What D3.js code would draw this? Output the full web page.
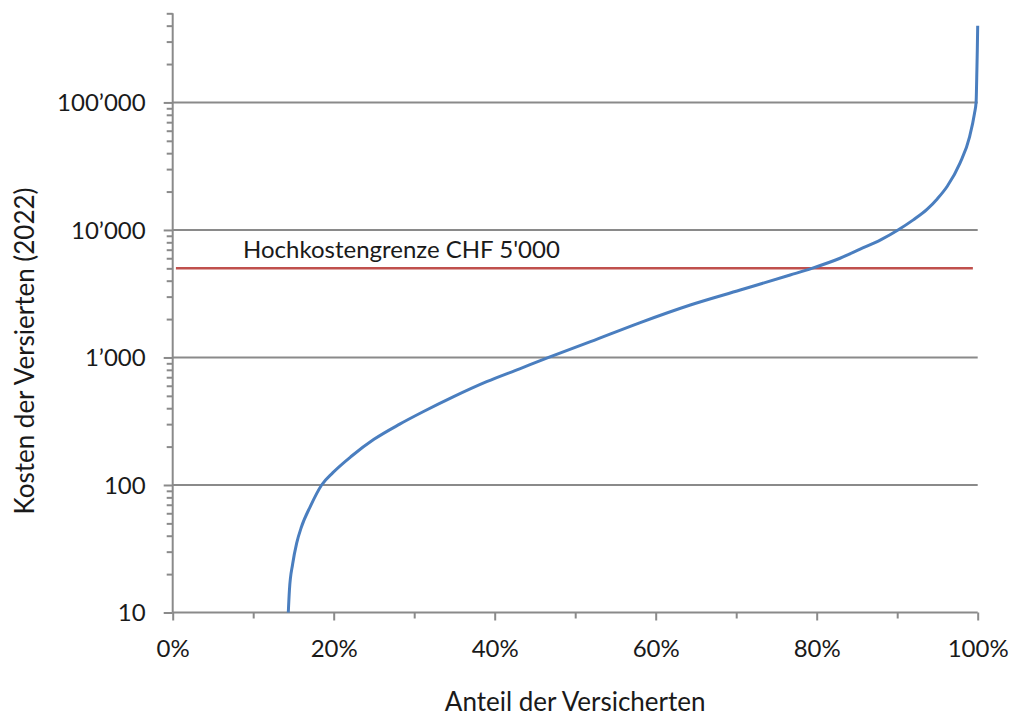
<!DOCTYPE html>
<html>
<head>
<meta charset="utf-8">
<script src="https://cdn.jsdelivr.net/npm/d3@7"></script>
<style>
  html, body { margin: 0; padding: 0; background: #ffffff; }
  svg { display: block; }
  text { font-family: Lato, "Open Sans", sans-serif; fill: #1a1a1a; }
</style>
</head>
<body>
<svg id="chart" width="1014" height="717"></svg>
<script>
// Share of insured persons (%) and their annual costs (CHF, 2022), sorted ascending
const sharePct = [14.36, 14.5, 14.9, 15.4, 16.0, 17.1, 18.5, 19.9, 22.2, 25.0, 28.2, 31.1, 34.9, 39.0, 43.1, 46.7, 51.9, 58.0, 64.3, 70.5, 76.7, 79.4, 82.9, 85.4, 88.0, 90.1, 92.0, 93.7, 95.0, 96.2, 97.8, 99.0, 99.6, 99.8, 99.9, 99.95, 100];
const costs    = [10, 15, 24, 35, 47, 68, 100, 125, 168, 228, 300, 375, 493, 646, 815, 1000, 1330, 1870, 2580, 3380, 4430, 5000, 6000, 7060, 8400, 10000, 12000, 14500, 17600, 21900, 33400, 54000, 82000, 100000, 180000, 258000, 400000];

// Axis ticks
const yTickValues = [10, 100, 1000, 10000, 100000];
const yTickLabels = ["10", "100", "1’000", "10’000", "100’000"];
const xTickValues = [0, 20, 40, 60, 80, 100];
const xTickLabels = ["0%", "20%", "40%", "60%", "80%", "100%"];
const xMinorValues = [10, 30, 50, 70, 90];

// High-cost threshold
const thresholdValue = 5000;
const thresholdLabel = "Hochkostengrenze CHF 5'000";

const xTitle = "Anteil der Versicherten";
const yTitle = "Kosten der Versierten (2022)";

const svg = d3.select("#chart");
const plotLeft = 172.7, plotRight = 977.7, plotTop = 13.3, plotBottom = 612.5;
const labelSize = 24, titleSize = 26;

const x = d3.scaleLinear().domain([0, 100]).range([plotLeft, plotRight]);
const y = d3.scaleLog().domain([10, 500000]).range([plotBottom, plotTop]);

const gridColor = "#8a8a8a";

// Horizontal gridlines at the major decades
svg.append("g")
  .selectAll("line")
  .data(yTickValues.filter(v => v > 10))
  .join("line")
  .attr("x1", plotLeft).attr("x2", plotRight)
  .attr("y1", d => y(d)).attr("y2", d => y(d))
  .attr("stroke", gridColor).attr("stroke-width", 2);

// Y axis: minor ticks for 2..9 × 10^k, major ticks at decades
const yMinor = y.ticks().filter(v => !yTickValues.includes(v));
const yAxisMinor = d3.axisLeft(y).tickValues(yMinor).tickSize(6).tickFormat("");
const yAxisMajor = d3.axisLeft(y).tickValues(yTickValues).tickSize(9)
  .tickFormat((d, i) => yTickLabels[i]).tickPadding(18);

const gyMinor = svg.append("g").attr("transform", `translate(${plotLeft},0)`).call(yAxisMinor);
const gy = svg.append("g").attr("transform", `translate(${plotLeft},0)`).call(yAxisMajor);
[gyMinor, gy].forEach(g => {
  g.select(".domain").attr("stroke", gridColor).attr("stroke-width", 2);
  g.selectAll(".tick line").attr("stroke", gridColor).attr("stroke-width", 2);
});
gyMinor.select(".domain").attr("stroke", "none");
gy.select(".domain").attr("d", `M0,${plotBottom}V${plotTop}`);
gy.selectAll(".tick text")
  .attr("font-size", labelSize).attr("font-family", "Lato").attr("fill", "#1a1a1a")
  .attr("dy", "0.35em");

// X axis
const xAxisMinor = d3.axisBottom(x).tickValues(xMinorValues).tickSize(6).tickFormat("");
const xAxisMajor = d3.axisBottom(x).tickValues(xTickValues).tickSize(8)
  .tickFormat((d, i) => xTickLabels[i]).tickPadding(19);
const gxMinor = svg.append("g").attr("transform", `translate(0,${plotBottom})`).call(xAxisMinor);
const gx = svg.append("g").attr("transform", `translate(0,${plotBottom})`).call(xAxisMajor);
[gxMinor, gx].forEach(g => {
  g.select(".domain").attr("stroke", "none");
  g.selectAll(".tick line").attr("stroke", gridColor).attr("stroke-width", 2);
});
gx.select(".domain").attr("stroke", gridColor).attr("stroke-width", 2)
  .attr("d", `M${plotLeft},0H${plotRight}`);
gx.selectAll(".tick text")
  .attr("font-size", labelSize).attr("font-family", "Lato").attr("fill", "#1a1a1a");

// Threshold line and label
svg.append("line")
  .attr("x1", x(0.4)).attr("x2", x(99.4))
  .attr("y1", y(thresholdValue)).attr("y2", y(thresholdValue))
  .attr("stroke", "#c0504d").attr("stroke-width", 2.5);
svg.append("text")
  .attr("x", 243).attr("y", y(thresholdValue) - 10)
  .attr("font-size", labelSize)
  .text(thresholdLabel);

// Cost distribution curve
const pts = sharePct.map((p, i) => [p, costs[i]]);
svg.append("path")
  .datum(pts)
  .attr("fill", "none")
  .attr("stroke", "#4a7ebf")
  .attr("stroke-width", 3)
  .attr("stroke-linejoin", "round")
  .attr("d", d3.line().x(d => x(d[0])).y(d => y(d[1])).curve(d3.curveMonotoneX));

// Axis titles
svg.append("text")
  .attr("x", (plotLeft + plotRight) / 2).attr("y", 711)
  .attr("text-anchor", "middle").attr("font-size", titleSize)
  .text(xTitle);
svg.append("text")
  .attr("transform", "translate(34,351) rotate(-90)")
  .attr("text-anchor", "middle").attr("font-size", titleSize)
  .text(yTitle);
</script>
</body>
</html>
